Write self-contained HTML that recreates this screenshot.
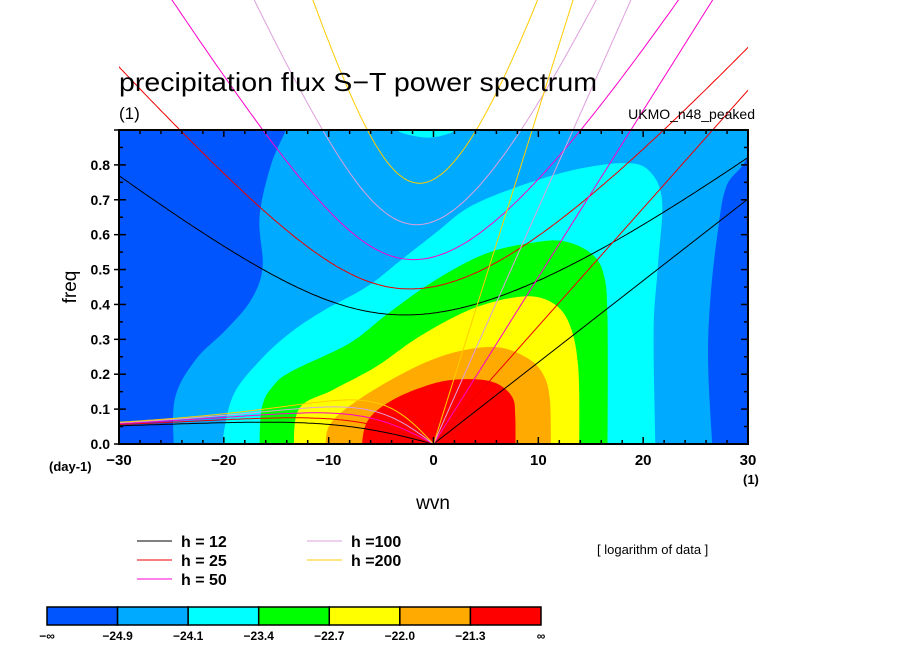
<!DOCTYPE html>
<html><head><meta charset="utf-8"><style>
html,body{margin:0;padding:0;background:#fff;}
svg text{font-family:"Liberation Sans",sans-serif;}
</style></head><body>
<svg id="chart" width="904" height="654" viewBox="0 0 904 654" xmlns="http://www.w3.org/2000/svg">
<defs><clipPath id="clipx"><rect x="119" y="0" width="629" height="444"/></clipPath>
<clipPath id="plotclip"><rect x="119" y="130" width="629" height="314"/></clipPath></defs>
<rect x="119" y="130" width="629" height="314" fill="#0055ff"/>
<g id="contours" clip-path="url(#plotclip)"></g>
<g id="curves" clip-path="url(#clipx)"></g>
<g id="axes"></g>
<text x="119" y="91" font-size="26" textLength="478" lengthAdjust="spacingAndGlyphs">precipitation flux S−T power spectrum</text>
<text x="119" y="119" font-size="17">(1)</text>
<text x="755" y="119" font-size="14" text-anchor="end">UKMO_n48_peaked</text>
<text x="76" y="287" font-size="19" text-anchor="middle" transform="rotate(-90 76 287)">freq</text>
<text x="433" y="509" font-size="19" text-anchor="middle">wvn</text>
<text x="49" y="471" font-size="13" font-weight="bold">(day-1)</text>
<text x="743" y="484" font-size="13" font-weight="bold">(1)</text>
<text x="597" y="554" font-size="13">[ logarithm of data ]</text>
<g id="legend"></g>
<g id="colorbar"></g>
</svg>
<script>
const levelColors = ["#00aaff","#00ffff","#00ff00","#ffff00","#ffaa00","#ff0000"];
const cbColors = ["#0055ff","#00aaff","#00ffff","#00ff00","#ffff00","#ffaa00","#ff0000"];
const cbLabels = ["−∞","−24.9","−24.1","−23.4","−22.7","−22.0","−21.3","∞"];
const hValues = [12,25,50,100,200];
const hColors = ["#000000","#ee0000","#ff00cc","#dda0dd","#ffcc00"];
const xTicks = [-30,-20,-10,0,10,20,30];
const yTicks = [0,0.1,0.2,0.3,0.4,0.5,0.6,0.7,0.8];
// contour boundaries [wvn, freq]
const c1 = [[-24.7,-0.05],[-24.7,0.126],[-22.7,0.241],[-19.8,0.327],[-17.4,0.413],[-16.3,0.507],[-16.6,0.65],[-15.5,0.8],[-14.1,0.9],[-13.6,0.96],[31,0.96],[31,0.88],[29.5,0.8],[27.9,0.736],[27.1,0.605],[26.4,0.413],[26.2,0.221],[26.7,-0.05]];
const c2 = [[-20,-0.05],[-20,0.032],[-19,0.146],[-16.5,0.241],[-13.7,0.318],[-10.4,0.384],[-6.4,0.45],[-3.1,0.527],[0.2,0.605],[3.4,0.679],[7.9,0.736],[13.3,0.785],[18.1,0.805],[20.5,0.785],[21.8,0.699],[21.4,0.507],[21,0.318],[21.2,-0.05]];
const c2top = [[-3.5,0.93],[-3.5,0.9],[-2,0.884],[0,0.879],[2.2,0.9],[2.2,0.93]];
const c3 = [[-16.6,-0.05],[-16.4,0.1],[-15.2,0.17],[-13.3,0.212],[-8,0.289],[-4.3,0.375],[0.2,0.47],[5.1,0.547],[9.9,0.579],[12.6,0.58],[15,0.547],[16.2,0.49],[16.6,0.364],[16.6,-0.05]];
const c4 = [[-13.3,-0.05],[-12.9,0.097],[-9.6,0.155],[-5.5,0.221],[-1.4,0.307],[3.4,0.384],[7.9,0.421],[10.8,0.413],[12.8,0.355],[13.8,0.221],[13.9,-0.05]];
const c5 = [[-10.2,-0.05],[-10,0.049],[-7.2,0.126],[-2.3,0.212],[1.8,0.261],[5.9,0.278],[8.8,0.249],[10.4,0.203],[11.1,0.126],[11.2,-0.05]];
const c6 = [[-6.9,-0.05],[-6.4,0.06],[-3.9,0.126],[0.2,0.175],[3.4,0.186],[5.9,0.175],[7.5,0.135],[7.8,0.077],[7.8,-0.05]];

const NS="http://www.w3.org/2000/svg";
const X0=119,X1=748,Y0=444,Y1=130;
function xs(k){return X0+(k+30)/60*(X1-X0);}
function ys(f){return Y0-f/0.9*(Y0-Y1);}
function mk(tag,attrs,parent){const e=document.createElementNS(NS,tag);for(const a in attrs)e.setAttribute(a,attrs[a]);parent.appendChild(e);return e;}
function smoothPath(pts){
  const P=pts.map(p=>[xs(p[0]),ys(p[1])]);
  let d="M"+P[0][0].toFixed(1)+","+P[0][1].toFixed(1);
  for(let i=0;i<P.length-1;i++){
    const p0=P[Math.max(0,i-1)],p1=P[i],p2=P[i+1],p3=P[Math.min(P.length-1,i+2)];
    const c1x=p1[0]+(p2[0]-p0[0])/6,c1y=p1[1]+(p2[1]-p0[1])/6;
    const c2x=p2[0]-(p3[0]-p1[0])/6,c2y=p2[1]-(p3[1]-p1[1])/6;
    d+=" C"+c1x.toFixed(1)+","+c1y.toFixed(1)+" "+c2x.toFixed(1)+","+c2y.toFixed(1)+" "+p2[0].toFixed(1)+","+p2[1].toFixed(1);
  }
  return d+" Z";
}

const cg=document.getElementById('contours');
[c1,c2,c3,c4,c5,c6].forEach((pts,i)=>{
  const p=mk('path',{d:smoothPath(pts),fill:levelColors[i]},cg);
  
  
});
{const p=mk('path',{d:smoothPath(c2top),fill:levelColors[1]},cg);

}

// dispersion curves
const g=9.81,a=6.371e6,beta=2*7.292e-5/a,cpd=86400/(2*Math.PI);
function igRoot(k,c){const p=c*c*k*k+3*beta*c,q=beta*k*c*c;let w=Math.sqrt(p)*1.5+1e-6;for(let i=0;i<60;i++){const f=w*w*w-p*w-q,df=3*w*w-p;w-=f/df;}return w;}
const cvg=document.getElementById('curves');
hValues.forEach((h,i)=>{
  const c=Math.sqrt(g*h);
  let ig=[],er=[];
  for(let s=-32;s<=32.001;s+=0.25){const k=s/a;ig.push([s,igRoot(k,c)*cpd]);}
  for(let s=-30;s<=0.001;s+=0.25){const k=s/a;er.push([s,(-beta*k/(k*k+3*beta/c))*cpd]);}
  const kv=[[0,0],[32,c*32/a*cpd]];
  [["ig",ig],["er",er],["kelvin",kv]].forEach(([nm,pts])=>{
    const d=pts.map(p=>xs(p[0]).toFixed(1)+","+ys(p[1]).toFixed(1)).join(" ");
    const l=mk('polyline',{points:d,fill:"none",stroke:hColors[i],"stroke-width":1},cvg);
    
    
  });
});

// axes
const ax=document.getElementById('axes');
const fr=mk('rect',{x:X0,y:Y1,width:X1-X0,height:Y0-Y1,fill:"none",stroke:"#000","stroke-width":2},ax);


for(let k=-30;k<=30;k+=2){const x=xs(k),L=(k%10===0)?7:4;
  mk('line',{x1:x,y1:Y0,x2:x,y2:Y0-L,stroke:"#000","stroke-width":1.5},ax);
  mk('line',{x1:x,y1:Y1,x2:x,y2:Y1+L,stroke:"#000","stroke-width":1.5},ax);}
for(let j=0;j<=18;j++){const y=ys(j*0.05),L=(j%2===0)?7:4;
  mk('line',{x1:X0,y1:y,x2:X0+L,y2:y,stroke:"#000","stroke-width":1.5},ax);
  mk('line',{x1:X1,y1:y,x2:X1-L,y2:y,stroke:"#000","stroke-width":1.5},ax);
  if(j%2===0) mk('line',{x1:X0-5,y1:y,x2:X0,y2:y,stroke:"#000","stroke-width":1.5},ax);}
xTicks.forEach(k=>{const t=mk('text',{x:xs(k),y:Y0+21,"font-size":15,"font-weight":"bold","text-anchor":"middle"},ax);t.textContent=(k<0?"−"+(-k):k);
  
  });
yTicks.forEach(f=>{const t=mk('text',{x:X0-9,y:ys(f)+5,"font-size":14,"font-weight":"bold","text-anchor":"end"},ax);t.textContent=f.toFixed(1);
  
  });

// legend
const lg=document.getElementById('legend');
const lpos=[[137,541],[137,560],[137,579],[307,541],[307,560]];
const ltxt=["h = 12","h = 25","h = 50","h =100","h =200"];
hValues.forEach((h,i)=>{const [lx,ly]=lpos[i];
  const l=mk('line',{x1:lx,y1:ly,x2:lx+35,y2:ly,stroke:hColors[i],"stroke-width":1},lg);
  
  
  const t=mk('text',{x:lx+44,y:ly+6,"font-size":16,"font-weight":"bold"},lg);t.textContent=ltxt[i];
  
  });

// colorbar
const cb=document.getElementById('colorbar');
const bx0=47,bw=(541-47)/7;
cbColors.forEach((c,i)=>{const r=mk('rect',{x:bx0+i*bw,y:607,width:bw,height:18,fill:c,stroke:"#000","stroke-width":1.5},cb);
  
  });
cbLabels.forEach((s,i)=>{const t=mk('text',{x:bx0+i*bw,y:640,"font-size":12,"font-weight":"bold","text-anchor":"middle"},cb);t.textContent=s;
  
  });
</script>
</body></html>
